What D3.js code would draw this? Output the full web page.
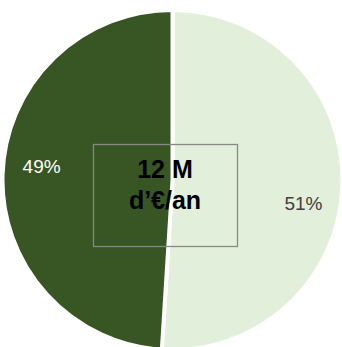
<!DOCTYPE html>
<meta charset="utf-8">
<script src="https://d3js.org/d3.v7.min.js"></script>
<style>
  body { margin: 0; background: #fff; }
</style>
<div class="canvas"></div>
<script>
    // pie data (clockwise from 12 o'clock)
    const categories = ["B", "A"]
    const values = [51, 49]
    const labels = ["51%", "49%"]
    const centerLines = ["12 M", "d\u2019\u20ac/an"]

    const width = 342
    const height = 347
    const cx = 172.5, cy = 180
    const radius = 170

    const color = d3.scaleOrdinal()
                    .domain(categories)
                    .range(["#e2efda", "#375623"])

    const svg = d3.select(".canvas")
                .append("svg")
                .attr("width", width)
                .attr("height", height)

    const graph = svg.append("g")
                    .attr("transform", `translate(${cx},${cy})`)

    const pie = d3.pie().sort(null).value(d => d.value)
    const data = categories.map((c, i) => ({ cat: c, value: values[i], label: labels[i] }))
    const arcs = pie(data)

    const arc = d3.arc().innerRadius(0).outerRadius(radius)
    const labelArc = d3.arc().innerRadius(131).outerRadius(131)

    graph.selectAll("path")
        .data(arcs)
        .enter()
        .append("path")
        .attr("d", arc)
        .attr("fill", d => color(d.data.cat))
        .attr("stroke", "#fff")
        .attr("stroke-width", 4)

    // Excel-ish nudges for the data labels
    const nudge = { B: [0, 21], A: [0, -8] }

    graph.selectAll(".lbl")
        .data(arcs)
        .enter()
        .append("text")
        .attr("class", "lbl")
        .attr("x", d => labelArc.centroid(d)[0] + nudge[d.data.cat][0])
        .attr("y", d => labelArc.centroid(d)[1] + nudge[d.data.cat][1])
        .attr("text-anchor", "middle")
        .attr("dominant-baseline", "middle")
        .attr("font-family", "Liberation Sans, Arial, sans-serif")
        .attr("font-size", 19)
        .attr("fill", d => d.data.cat === "A" ? "#ffffff" : "#404040")
        .text(d => d.data.label)

    // centre text box
    const box = svg.append("g")
    box.append("rect")
        .attr("x", 93.5)
        .attr("y", 144.5)
        .attr("width", 144)
        .attr("height", 102)
        .attr("fill", "none")
        .attr("stroke", "#888888")
        .attr("stroke-width", 1.3)

    box.selectAll("text")
        .data(centerLines)
        .enter()
        .append("text")
        .attr("x", 165)
        .attr("y", (d, i) => 178 + i * 31)
        .attr("text-anchor", "middle")
        .attr("font-family", "Liberation Sans, Arial, sans-serif")
        .attr("font-weight", "bold")
        .attr("font-size", 25)
        .attr("fill", "#000")
        .text(d => d)
</script>
